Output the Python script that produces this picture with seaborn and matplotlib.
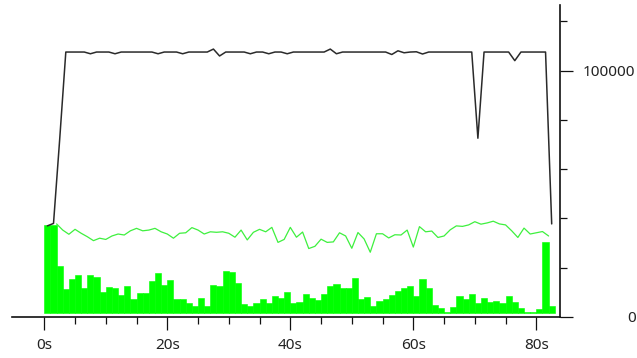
import numpy as np
import matplotlib
matplotlib.use("Agg")
import matplotlib.pyplot as plt
from matplotlib.ticker import MultipleLocator, FixedLocator, FuncFormatter
import seaborn as sns

# black series, one point per second (centred on the half second), in thousands
black_t = np.arange(0.5, 83, 1.0)
black_k = [37.0, 38.0, 72.0, 107.6, 107.6, 107.6, 107.6, 106.9, 107.6, 107.6,
           107.6, 106.9, 107.6, 107.6, 107.6, 107.6, 107.6, 107.6, 106.9, 107.6,
           107.6, 107.6, 106.9, 107.6, 107.6, 107.6, 107.6, 108.8, 106.0, 107.6,
           107.6, 107.6, 107.6, 106.9, 107.6, 107.6, 106.9, 107.6, 107.6, 106.9,
           107.6, 107.6, 107.6, 107.6, 107.6, 107.6, 108.8, 106.9, 107.6, 107.6,
           107.6, 107.6, 107.6, 107.6, 107.6, 107.6, 106.6, 108.1, 107.3, 107.6,
           107.7, 106.8, 107.6, 107.6, 107.6, 107.6, 107.6, 107.6, 107.6, 107.6,
           72.6, 107.6, 107.6, 107.6, 107.6, 107.6, 104.1, 107.6, 107.6, 107.6,
           107.6, 107.6, 37.8]

# thin green line, t = 2..82 s, in thousands
green_t = np.arange(2, 83)
green_k = [37.8, 35.3, 33.6, 35.6, 34.0, 32.6, 31.0, 32.0, 31.5, 32.9,
           33.7, 33.3, 35.0, 36.0, 35.0, 35.3, 36.0, 34.6, 33.7, 32.0,
           34.0, 34.2, 36.3, 35.3, 33.7, 34.6, 34.4, 34.6, 34.0, 32.4,
           35.3, 31.3, 34.4, 35.6, 34.6, 36.4, 30.3, 31.5, 36.4, 32.4,
           34.5, 27.8, 28.7, 31.6, 30.3, 30.5, 34.2, 32.9, 27.9, 34.3,
           31.7, 26.3, 33.8, 33.8, 32.1, 33.4, 33.3, 35.3, 28.4, 36.7,
           34.6, 34.9, 32.3, 32.9, 35.4, 37.0, 36.8, 37.4, 38.7, 37.7,
           38.2, 38.9, 37.8, 37.4, 35.0, 32.3, 36.1, 33.7, 34.2, 34.7,
           32.9]

# green bars, one per second starting at 0 s, in thousands
bar_t = np.arange(0, 83)
bar_k = [37.4, 37.4, 20.7, 11.4, 15.4, 17.1, 11.8, 17.1, 16.2, 10.2,
         12.2, 11.8, 8.9, 12.6, 7.3, 9.7, 9.7, 14.6, 17.9, 13.0,
         15.0, 7.3, 7.3, 5.7, 4.5, 7.7, 4.5, 13.0, 12.6, 18.7,
         18.3, 13.8, 5.3, 4.5, 5.7, 7.3, 5.7, 8.5, 7.7, 10.2,
         5.7, 6.1, 9.3, 7.7, 6.9, 9.3, 12.6, 13.4, 11.8, 11.8,
         15.8, 7.3, 8.1, 4.5, 6.5, 7.3, 8.9, 10.6, 11.8, 12.6,
         8.5, 15.4, 11.8, 4.9, 3.7, 2.0, 4.1, 8.5, 7.3, 9.3,
         5.7, 7.7, 6.1, 6.5, 5.7, 8.5, 6.1, 3.7, 2.0, 2.0,
         3.2, 30.5, 4.5]

x_major = [0, 20, 40, 60, 80]
x_minor = np.arange(0, 85, 5)

black_v = np.array(black_k) * 1000
green_v = np.array(green_k) * 1000
bar_v = np.array(bar_k) * 1000

sns.set_style("white")
plt.rcParams["font.family"] = ["Noto Sans", "DejaVu Sans"]

fig = plt.figure(figsize=(6.37, 3.58), dpi=100)
ax = fig.add_axes([12.3 / 637, 41 / 358, 547.7 / 637, 312 / 358])

# bars sit a hair above the axis line
bar_base = 1500
ax.bar(bar_t, bar_v - bar_base, bottom=bar_base, width=1.0, align="edge",
       color="#00ff00", edgecolor="#00ff00", linewidth=0.4, zorder=1)

sns.lineplot(x=green_t, y=green_v, ax=ax, color="#3ef03e", linewidth=0.9, zorder=2)
sns.lineplot(x=black_t, y=black_v, ax=ax, color="#2a2a2a", linewidth=1.1, zorder=3)

ax.set_xlim(-5.2, 83.85)
ax.set_ylim(0, 126700)

for side in ["left", "top"]:
    ax.spines[side].set_visible(False)
for side in ["bottom", "right"]:
    ax.spines[side].set_color("#111111")
    ax.spines[side].set_linewidth(1.2)

ax.xaxis.set_major_locator(FixedLocator(x_major))
ax.xaxis.set_minor_locator(FixedLocator([v for v in x_minor if v not in x_major]))
ax.xaxis.set_major_formatter(FuncFormatter(lambda v, p: f"{v:.0f}s"))

ax.yaxis.tick_right()
ax.yaxis.set_major_locator(MultipleLocator(100000))
ax.yaxis.set_minor_locator(MultipleLocator(20000))
ax.yaxis.set_major_formatter(FuncFormatter(lambda v, p: f"{v:.0f}"))

ax.tick_params(axis="both", which="major", length=9.4, width=0.9,
               color="#111111", labelsize=11, labelcolor="#222222")
ax.tick_params(axis="both", which="minor", length=5, width=0.9, color="#111111")
ax.tick_params(axis="x", which="major", bottom=True, pad=5.5)
ax.tick_params(axis="x", which="minor", bottom=True)
ax.tick_params(axis="y", which="both", right=True, left=False)
ax.tick_params(axis="y", which="major", pad=45)
for lbl in ax.get_yticklabels():
    lbl.set_horizontalalignment("right")

ax.set_xlabel("")
ax.set_ylabel("")
ax.grid(False)

fig.savefig("out.png", dpi=100)
